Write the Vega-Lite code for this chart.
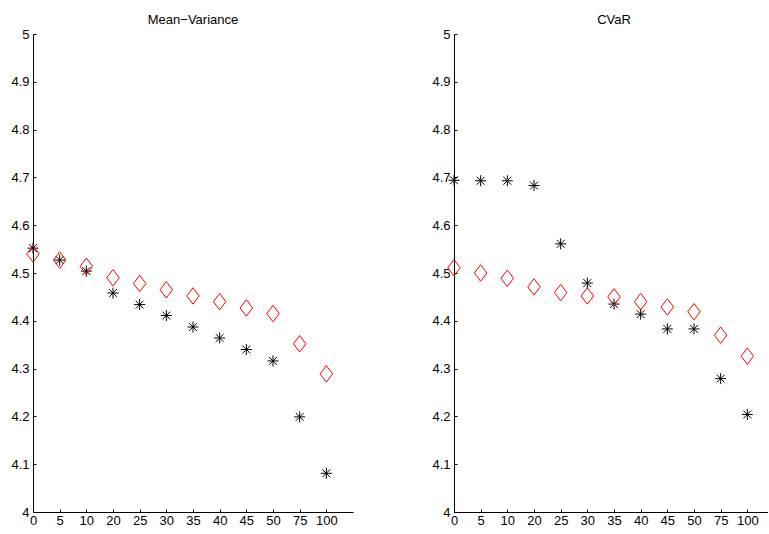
{
  "$schema": "https://vega.github.io/schema/vega-lite/v6.json",
  "padding": {"left": 10, "top": 14, "right": 0, "bottom": 5},
  "background": "white",
  "datasets": {
    "pts": [
      {"panel": "MV", "idx": 0, "k": 0, "series": "star", "value": 4.552},
      {"panel": "MV", "idx": 1, "k": 5, "series": "star", "value": 4.527},
      {"panel": "MV", "idx": 2, "k": 10, "series": "star", "value": 4.504},
      {"panel": "MV", "idx": 3, "k": 20, "series": "star", "value": 4.458},
      {"panel": "MV", "idx": 4, "k": 25, "series": "star", "value": 4.434},
      {"panel": "MV", "idx": 5, "k": 30, "series": "star", "value": 4.411},
      {"panel": "MV", "idx": 6, "k": 35, "series": "star", "value": 4.387},
      {"panel": "MV", "idx": 7, "k": 40, "series": "star", "value": 4.364},
      {"panel": "MV", "idx": 8, "k": 45, "series": "star", "value": 4.340},
      {"panel": "MV", "idx": 9, "k": 50, "series": "star", "value": 4.316},
      {"panel": "MV", "idx": 10, "k": 75, "series": "star", "value": 4.199},
      {"panel": "MV", "idx": 11, "k": 100, "series": "star", "value": 4.081},
      {"panel": "MV", "idx": 0, "k": 0, "series": "diamond", "value": 4.540},
      {"panel": "MV", "idx": 1, "k": 5, "series": "diamond", "value": 4.527},
      {"panel": "MV", "idx": 2, "k": 10, "series": "diamond", "value": 4.514},
      {"panel": "MV", "idx": 3, "k": 20, "series": "diamond", "value": 4.490},
      {"panel": "MV", "idx": 4, "k": 25, "series": "diamond", "value": 4.478},
      {"panel": "MV", "idx": 5, "k": 30, "series": "diamond", "value": 4.465},
      {"panel": "MV", "idx": 6, "k": 35, "series": "diamond", "value": 4.452},
      {"panel": "MV", "idx": 7, "k": 40, "series": "diamond", "value": 4.440},
      {"panel": "MV", "idx": 8, "k": 45, "series": "diamond", "value": 4.427},
      {"panel": "MV", "idx": 9, "k": 50, "series": "diamond", "value": 4.415},
      {"panel": "MV", "idx": 10, "k": 75, "series": "diamond", "value": 4.352},
      {"panel": "MV", "idx": 11, "k": 100, "series": "diamond", "value": 4.289},
      {"panel": "CV", "idx": 0, "k": 0, "series": "star", "value": 4.694},
      {"panel": "CV", "idx": 1, "k": 5, "series": "star", "value": 4.693},
      {"panel": "CV", "idx": 2, "k": 10, "series": "star", "value": 4.693},
      {"panel": "CV", "idx": 3, "k": 20, "series": "star", "value": 4.683},
      {"panel": "CV", "idx": 4, "k": 25, "series": "star", "value": 4.561},
      {"panel": "CV", "idx": 5, "k": 30, "series": "star", "value": 4.479},
      {"panel": "CV", "idx": 6, "k": 35, "series": "star", "value": 4.435},
      {"panel": "CV", "idx": 7, "k": 40, "series": "star", "value": 4.414},
      {"panel": "CV", "idx": 8, "k": 45, "series": "star", "value": 4.383},
      {"panel": "CV", "idx": 9, "k": 50, "series": "star", "value": 4.383},
      {"panel": "CV", "idx": 10, "k": 75, "series": "star", "value": 4.279},
      {"panel": "CV", "idx": 11, "k": 100, "series": "star", "value": 4.204},
      {"panel": "CV", "idx": 0, "k": 0, "series": "diamond", "value": 4.511},
      {"panel": "CV", "idx": 1, "k": 5, "series": "diamond", "value": 4.500},
      {"panel": "CV", "idx": 2, "k": 10, "series": "diamond", "value": 4.489},
      {"panel": "CV", "idx": 3, "k": 20, "series": "diamond", "value": 4.471},
      {"panel": "CV", "idx": 4, "k": 25, "series": "diamond", "value": 4.459},
      {"panel": "CV", "idx": 5, "k": 30, "series": "diamond", "value": 4.452},
      {"panel": "CV", "idx": 6, "k": 35, "series": "diamond", "value": 4.450},
      {"panel": "CV", "idx": 7, "k": 40, "series": "diamond", "value": 4.440},
      {"panel": "CV", "idx": 8, "k": 45, "series": "diamond", "value": 4.429},
      {"panel": "CV", "idx": 9, "k": 50, "series": "diamond", "value": 4.419},
      {"panel": "CV", "idx": 10, "k": 75, "series": "diamond", "value": 4.370},
      {"panel": "CV", "idx": 11, "k": 100, "series": "diamond", "value": 4.326}
    ]
  },
  "data": {"name": "pts"},
  "spacing": 101,
  "bounds": "flush",
  "config": {
    "view": {"stroke": null},
    "font": "Liberation Sans",
    "axis": {
      "grid": false,
      "domainColor": "#000000",
      "domainWidth": 1,
      "tickColor": "#000000",
      "tickSize": -3,
      "tickWidth": 1,
      "labelColor": "#000000",
      "labelFont": "Liberation Sans",
      "labelFontSize": 13,
      "title": null
    },
    "title": {"font": "Liberation Sans", "fontSize": 13, "fontWeight": "normal", "color": "#000000", "offset": 1}
  },
  "hconcat": [
    {
      "width": 320,
      "height": 478,
      "title": {"text": "Mean−Variance"},
      "transform": [{"filter": "datum.panel === 'MV'"}],
      "mark": {"type": "point", "filled": false, "strokeWidth": 1, "opacity": 1},
      "encoding": {
        "x": {"field": "idx", "type": "quantitative", "scale": {"domain": [0, 12], "nice": false, "zero": false},
          "axis": {"values": [0,1,2,3,4,5,6,7,8,9,10,11], "labelExpr": "['0','5','10','20','25','30','35','40','45','50','75','100'][datum.value]", "labelPadding": 5, "labelFlush": false,
            "encode": {"labels": {"update": {"dx": {"signal": "datum.value < 2 ? 4 : 0"}}}}}},
        "y": {"field": "value", "type": "quantitative", "scale": {"domain": [4, 5], "nice": false, "zero": false},
          "axis": {"values": [4,4.1,4.2,4.3,4.4,4.5,4.6,4.7,4.8,4.9,5], "format": ".1~f", "labelPadding": 7, "labelFlush": false}},
        "shape": {"field": "series", "type": "nominal", "legend": null,
          "scale": {"domain": ["star", "diamond"], "range": ["M-1,0L1,0M0,-1L0,1M-0.72,-0.72L0.72,0.72M-0.72,0.72L0.72,-0.72", "M0,-1.32L1,0L0,1.32L-1,0Z"]}},
        "stroke": {"field": "series", "type": "nominal", "legend": null,
          "scale": {"domain": ["star", "diamond"], "range": ["#000000", "#ff0000"]}},
        "size": {"field": "series", "type": "nominal", "legend": null,
          "scale": {"domain": ["star", "diamond"], "range": [121, 156]}}
      }
    },
    {
      "width": 314,
      "height": 478,
      "title": {"text": "CVaR", "dx": 3},
      "transform": [{"filter": "datum.panel === 'CV'"}],
      "mark": {"type": "point", "filled": false, "strokeWidth": 1, "opacity": 1},
      "encoding": {
        "x": {"field": "idx", "type": "quantitative", "scale": {"domain": [0, 11.775], "nice": false, "zero": false},
          "axis": {"values": [0,1,2,3,4,5,6,7,8,9,10,11], "labelExpr": "['0','5','10','20','25','30','35','40','45','50','75','100'][datum.value]", "labelPadding": 5, "labelFlush": false,
            "encode": {"labels": {"update": {"dx": {"signal": "datum.value < 2 ? 4 : 0"}}}}}},
        "y": {"field": "value", "type": "quantitative", "scale": {"domain": [4, 5], "nice": false, "zero": false},
          "axis": {"values": [4,4.1,4.2,4.3,4.4,4.5,4.6,4.7,4.8,4.9,5], "format": ".1~f", "labelPadding": 7, "labelFlush": false}},
        "shape": {"field": "series", "type": "nominal", "legend": null,
          "scale": {"domain": ["star", "diamond"], "range": ["M-1,0L1,0M0,-1L0,1M-0.72,-0.72L0.72,0.72M-0.72,0.72L0.72,-0.72", "M0,-1.32L1,0L0,1.32L-1,0Z"]}},
        "stroke": {"field": "series", "type": "nominal", "legend": null,
          "scale": {"domain": ["star", "diamond"], "range": ["#000000", "#ff0000"]}},
        "size": {"field": "series", "type": "nominal", "legend": null,
          "scale": {"domain": ["star", "diamond"], "range": [121, 156]}}
      }
    }
  ],
  "resolve": {"scale": {"x": "independent", "y": "independent", "shape": "shared", "stroke": "shared", "size": "shared"}}
}
